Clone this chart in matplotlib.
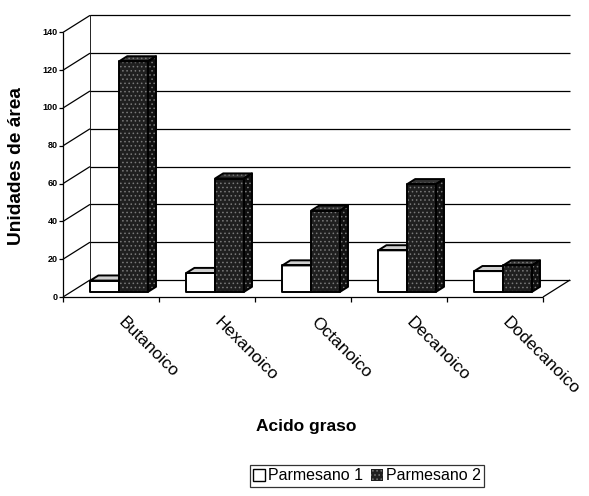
import matplotlib
matplotlib.use("Agg")
import matplotlib.pyplot as plt
from matplotlib.patches import Polygon, Patch

plt.rcParams['font.family'] = ['Liberation Sans', 'DejaVu Sans']

# Data
categories = ["Butanoico", "Hexanoico", "Octanoico", "Decanoico", "Dodecanoico"]
parmesano_1 = [6, 10, 14, 22, 11]
parmesano_2 = [122, 60, 43, 57, 14]
y_ticks = [0, 20, 40, 60, 80, 100, 120, 140]
series_names = ["Parmesano 1", "Parmesano 2"]

# Oblique projection settings (category units / value units)
PX_PER_CAT = 96.0
PX_PER_VAL = 1.89
ORIGIN_X, ORIGIN_Y = 63.0, 297.0
W_PX, H_PX = 589, 496
DX = 27.0 / PX_PER_CAT      # depth offset along x
DY = 17.0 / PX_PER_VAL      # depth offset along y
BAR_W = 0.30
BAR_FRONT = 0.30            # depth fraction where bar front faces sit
BAR_DEPTH = 0.30            # depth fraction occupied by each bar
N = len(categories)
VMAX = y_ticks[-1]

DARK = "#1f1f1f"
SPECKLE = "#7a7a7a"

fig = plt.figure(figsize=(W_PX / 100, H_PX / 100), dpi=100)
ax = fig.add_axes([0, 0, 1, 1])
ax.set_xlim(-ORIGIN_X / PX_PER_CAT, (W_PX - ORIGIN_X) / PX_PER_CAT)
ax.set_ylim((ORIGIN_Y - H_PX) / PX_PER_VAL, ORIGIN_Y / PX_PER_VAL)
ax.axis("off")

line_kw = dict(color="black", lw=0.9, solid_capstyle="butt")

# Back wall gridlines and left wall diagonals
for v in y_ticks:
    ax.plot([DX, N + DX], [v + DY, v + DY], **line_kw, zorder=1)
    ax.plot([0, DX], [v, v + DY], **line_kw, zorder=1)
    ax.plot([-0.04, 0], [v, v], **line_kw, zorder=1)
    ax.text(-0.055, v, str(v), ha="right", va="center", fontsize=6.5,
            fontweight="bold")

# Wall edges and floor
ax.plot([0, 0], [0, VMAX], **line_kw, zorder=1)
ax.plot([DX, DX], [DY, VMAX + DY], color="black", lw=0.6, zorder=1)
ax.plot([0, N], [0, 0], **line_kw, zorder=1)
ax.plot([N, N + DX], [0, DY], **line_kw, zorder=1)
for k in range(N + 1):
    ax.plot([k, k], [0, -2.8], **line_kw, zorder=1)


def draw_box(x0, x1, v, face, top, side, hatch=None, hatch_col=None, z=2):
    ox, oy = BAR_FRONT * DX, BAR_FRONT * DY
    tx, ty = BAR_DEPTH * DX, BAR_DEPTH * DY
    x0, x1 = x0 + ox, x1 + ox
    front = [(x0, oy), (x1, oy), (x1, v + oy), (x0, v + oy)]
    topf = [(x0, v + oy), (x1, v + oy), (x1 + tx, v + oy + ty), (x0 + tx, v + oy + ty)]
    sidef = [(x1, oy), (x1 + tx, oy + ty), (x1 + tx, v + oy + ty), (x1, v + oy)]
    for pts, col in ((sidef, side), (topf, top), (front, face)):
        if hatch:
            ax.add_patch(Polygon(pts, closed=True, facecolor=col, edgecolor=hatch_col,
                                 hatch=hatch, lw=0, zorder=z))
        else:
            ax.add_patch(Polygon(pts, closed=True, facecolor=col, lw=0, zorder=z))
        ax.add_patch(Polygon(pts, closed=True, fill=False, edgecolor="black",
                             lw=1.4, joinstyle="round", zorder=z + 0.1))


plt.rcParams['hatch.linewidth'] = 0.6
for i in range(N):
    c = i + 0.5
    z = 2 + i
    draw_box(c - BAR_W, c, parmesano_1[i], "white", "#d0d0d0", "#f0f0f0", z=z)
    draw_box(c, c + BAR_W, parmesano_2[i], DARK, "#333333", "#101010",
             hatch="....", hatch_col=SPECKLE, z=z + 0.5)

# Category labels
for i, name in enumerate(categories):
    ax.text(i + 0.66, -9.5, name, rotation=-45, rotation_mode="anchor",
            ha="left", va="top", fontsize=12.5)

# Axis titles
fig.text(17 / W_PX, 1 - 166 / H_PX, "Unidades de área", rotation=90,
         ha="center", va="center", fontsize=13.8, fontweight="bold")
fig.text(306 / W_PX, 1 - 426 / H_PX, "Acido graso", ha="center", va="center",
         fontsize=12.5, fontweight="bold")

# Legend
handles = [
    Patch(facecolor="white", edgecolor="black", lw=1.0, label=series_names[0]),
    Patch(facecolor=DARK, edgecolor=SPECKLE, hatch="....", lw=0.0,
          label=series_names[1]),
]
leg = fig.legend(handles=handles, loc="center", bbox_to_anchor=(367 / W_PX, 1 - 476 / H_PX),
                 ncol=2, fontsize=11.5, frameon=True, fancybox=False, handlelength=0.75,
                 handleheight=0.75, handletextpad=0.2, columnspacing=0.5,
                 borderpad=0.2, borderaxespad=0)
leg.get_frame().set_edgecolor("black")
leg.get_frame().set_linewidth(0.9)

fig.savefig("out.png", dpi=100)
